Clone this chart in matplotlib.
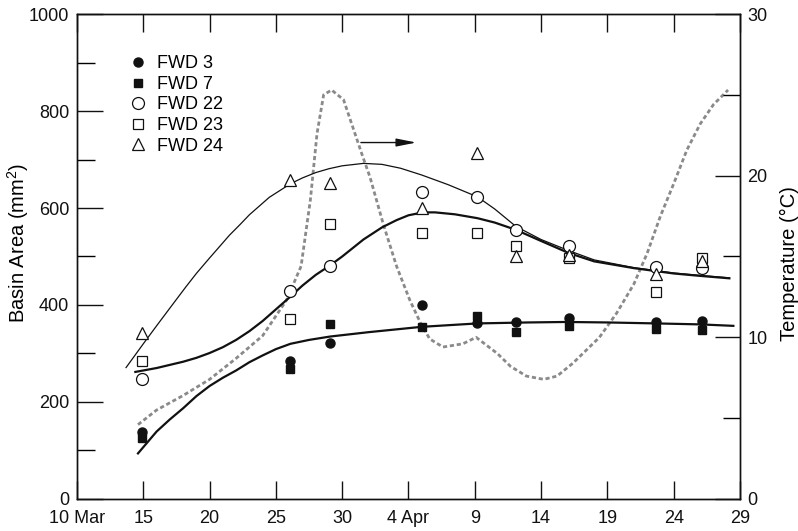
import numpy as np
import matplotlib
matplotlib.use('Agg')
import matplotlib.pyplot as plt
from matplotlib.ticker import MultipleLocator

plt.rcParams['font.family'] = ['Liberation Sans', 'DejaVu Sans']
plt.rcParams['mathtext.fontset'] = 'custom'
plt.rcParams['mathtext.rm'] = 'Liberation Sans'
plt.rcParams['mathtext.default'] = 'regular'

# days counted from 10 Mar
tick_days = [0, 5, 10, 15, 20, 25, 30, 35, 40, 45, 50]
tick_labels = ['10 Mar', '15', '20', '25', '30', '4 Apr', '9', '14', '19', '24', '29']

# sampling dates
days = [4.9, 16.1, 19.1, 26.0, 30.2, 33.1, 37.1, 43.7, 47.1]
fwd3 = [139, 285, 322, 400, 362, 364, 373, 364, 366]
fwd7 = [125, 268, 361, 355, 378, 345, 357, 350, 348]
fwd22 = [247, 429, 480, 632, 623, 555, 522, 479, 476]
fwd23 = [285, 371, 567, 548, 548, 522, 496, 427, 496]
fwd24 = [342, 658, 652, 601, 713, 501, 503, 464, 491]

# fitted curves
thin_x = [3.7, 5, 6, 7.4, 8.2, 9, 10, 10.8, 11.5, 12.3, 13, 14.5, 16.1, 17, 18, 19, 20, 21.6, 23,
          24.4, 26, 28, 30.2, 31.5, 33.1, 35, 37.1, 39, 42, 45, 47, 49.2]
thin_y = [271, 320, 357, 408, 437, 465, 497, 522, 544, 566, 586, 622, 650, 662, 673, 681, 687,
          692, 690, 682, 668, 648, 623, 598, 562, 535, 512, 493, 477, 466, 461, 456]

upper_x = [4.4, 6, 8, 9, 10, 11, 12, 13, 14, 15, 16, 17, 18, 19.1, 20, 21.6, 23, 24.1, 25, 26.1,
           27, 28.5, 30.2, 31.5, 33.1, 35, 37.1, 39, 42, 45, 47, 49.2]
upper_y = [262, 270, 283, 291, 301, 313, 328, 346, 367, 391, 415, 440, 462, 482, 500, 535, 560,
           575, 585, 591, 591, 587, 579, 570, 555, 532, 507, 490, 476, 465, 460, 455]

lower_x = [4.6, 6, 7, 8, 9, 10, 11, 12, 13, 14, 15, 16.1, 17.5, 19.1, 22, 26, 30.2, 34, 36.9, 40,
           43.7, 47, 49.5]
lower_y = [94, 139, 164, 187, 212, 233, 250, 265, 282, 296, 309, 320, 328, 335, 344, 355, 362,
           364, 365, 364, 362, 360, 357]

temp_x = [4.6, 6, 8, 10, 12, 14, 15.8, 16.9, 17.6, 18.1, 18.6, 19.2, 20.1, 20.8, 21.5, 22.1,
          23.1, 24.1, 25.1, 25.9, 26.6, 27.6, 29.1, 30.1, 31.7, 32.7, 33.9, 35.2, 36.2, 37.4,
          38.4, 39.4, 40.7, 42, 43, 44, 45, 46, 47, 48, 49.1]
temp_y = [4.6, 5.5, 6.4, 7.4, 8.7, 10.1, 12.3, 14.4, 18.5, 22.6, 25.0, 25.3, 24.7, 23.0, 21.3,
          19.9, 17.0, 14.4, 12.3, 10.9, 9.9, 9.4, 9.6, 10.0, 9.0, 8.2, 7.6, 7.4, 7.6, 8.4,
          9.2, 10.0, 11.5, 13.3, 15.2, 17.5, 19.5, 21.6, 23.2, 24.4, 25.3]

fig = plt.figure(figsize=(7.98, 5.31), dpi=100)
ax = fig.add_axes([0.0965, 0.0603, 0.8308, 0.9133])
ax2 = ax.twinx()

k = '#111111'
ax2.plot(temp_x, temp_y, color='#8a8a8a', lw=2.0, ls=(0, (1.5, 1.0)), zorder=1)

ax.plot(thin_x, thin_y, color=k, lw=0.9, zorder=2)
ax.plot(upper_x, upper_y, color=k, lw=1.6, zorder=2)
ax.plot(lower_x, lower_y, color=k, lw=1.6, zorder=2)

ax.plot(days, fwd3, 'o', color=k, ms=6.5, label='FWD 3', zorder=3)
ax.plot(days, fwd7, 's', color=k, ms=6.2, label='FWD 7', zorder=3)
ax.plot(days, fwd22, 'o', mfc='white', mec=k, mew=0.9, ms=8.6, label='FWD 22', zorder=3)
ax.plot(days, fwd23, 's', mfc='white', mec=k, mew=0.9, ms=7.3, label='FWD 23', zorder=3)
ax.plot(days, fwd24, '^', mfc='white', mec=k, mew=0.9, ms=9, label='FWD 24', zorder=3)

ax.annotate('', xy=(25.8, 735), xytext=(21.2, 735),
            arrowprops=dict(arrowstyle='-|>,head_length=0.6,head_width=0.12',
                            color=k, lw=1.0, mutation_scale=20))

ax.set_zorder(ax2.get_zorder() + 1)
ax.patch.set_visible(False)

ax.set_xlim(0, 50)
ax.set_ylim(0, 1000)
ax2.set_ylim(0, 30)
ax.set_xticks(tick_days)
ax.set_xticklabels(tick_labels)
ax.yaxis.set_major_locator(MultipleLocator(200))
ax.yaxis.set_minor_locator(MultipleLocator(100))
ax2.yaxis.set_major_locator(MultipleLocator(10))
ax2.yaxis.set_minor_locator(MultipleLocator(5))

fs = 13
ax.tick_params(axis='x', direction='in', length=13, width=1, top=True, labelsize=fs, pad=8, colors=k)
ax.tick_params(axis='y', which='major', direction='in', length=18.5, width=1, labelsize=fs, pad=5.5, colors=k)
ax.tick_params(axis='y', which='minor', direction='in', length=13, width=1)
ax2.tick_params(axis='y', which='major', direction='in', length=18, width=1, labelsize=fs, pad=5.5, colors=k)
ax2.tick_params(axis='y', which='minor', direction='in', length=12.5, width=1)

for a in (ax, ax2):
    for s in a.spines.values():
        s.set_linewidth(1.0)
        s.set_color(k)

ax.set_ylabel('Basin Area (mm$^{2}$)', fontsize=14.5)
ax.yaxis.set_label_coords(-0.069, 0.528)
ax2.set_ylabel('Temperature (\u00b0C)', fontsize=14.5)
ax2.yaxis.set_label_coords(1.061, 0.486)

ax.legend(loc='upper left', bbox_to_anchor=(0.079, 0.915), frameon=False, fontsize=fs,
          handlelength=1.0, handletextpad=0.55, labelspacing=0.2, borderpad=0, borderaxespad=0)

plt.savefig('out.png', dpi=100)
